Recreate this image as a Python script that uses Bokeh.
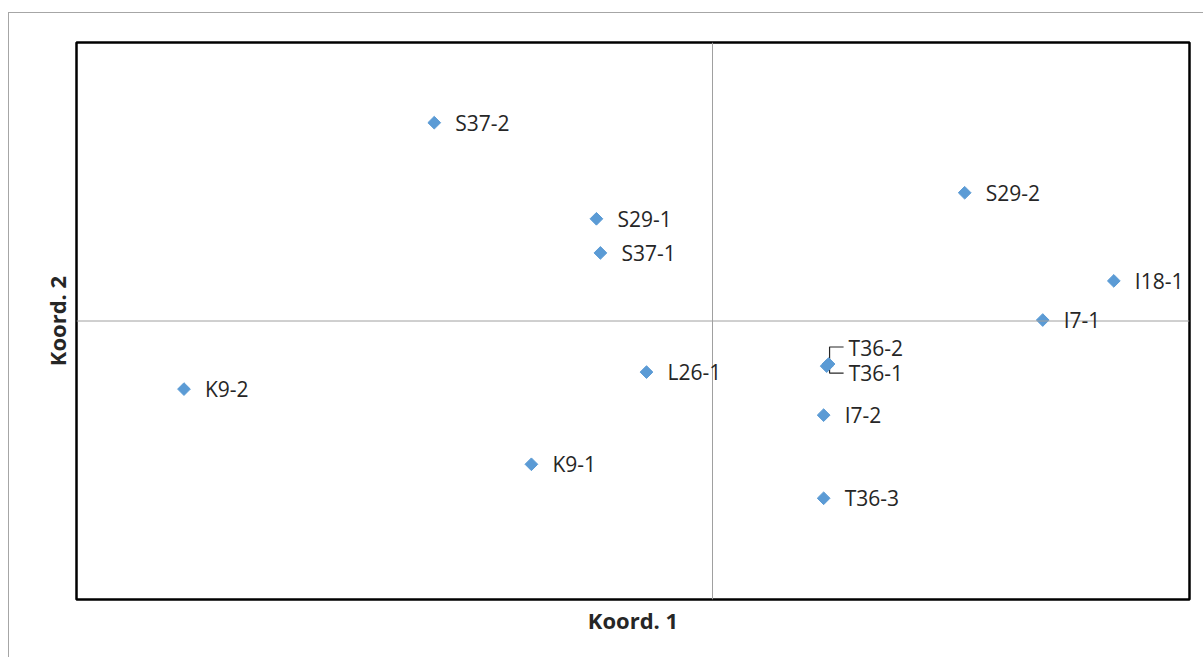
import math
from bokeh.plotting import figure
from bokeh.models import Range1d, Span, ColumnDataSource, LabelSet, FixedTicker
from bokeh.core.properties import value
from bokeh.embed import file_html
from bokeh.resources import INLINE

# data (Koord. 1, Koord. 2)
names = ["S37-2", "S29-1", "S37-1", "S29-2", "I18-1", "I7-1", "T36-2", "T36-1",
         "L26-1", "K9-2", "I7-2", "K9-1", "T36-3"]
koord1 = [-1.75, -0.73, -0.705, 1.586, 2.524, 2.077, 0.73, 0.718,
          -0.415, -3.324, 0.699, -1.139, 0.699]
koord2 = [1.424, 0.734, 0.489, 0.921, 0.288, 0.007, -0.309, -0.324,
          -0.367, -0.489, -0.676, -1.029, -1.273]

# label placement (screen px)
dx = [21] * len(names)
dy = [0] * len(names)
i2 = names.index("T36-2"); i1 = names.index("T36-1")
dx[i2], dy[i2] = 20, 16
dx[i1], dy[i1] = 22, -7

W, H = 1195, 645
p = figure(width=W, height=H, output_backend="svg", toolbar_location=None,
           x_range=Range1d(-4, 3), y_range=Range1d(-2, 2),
           min_border_left=67, min_border_right=15, min_border_top=29, min_border_bottom=59)
p.styles = {"border-left": "1px solid #a6a6a6", "border-top": "1px solid #a6a6a6",
            "margin-top": "12px", "margin-left": "8px"}
p.grid.visible = False
p.background_fill_color = "white"
p.border_fill_color = "white"
p.outline_line_color = "black"
p.outline_line_width = 2.5

for ax in (p.xaxis[0], p.yaxis[0]):
    ax.ticker = FixedTicker(ticks=[])
    ax.major_label_text_font_size = "0px"
    ax.major_tick_line_color = None
    ax.minor_tick_line_color = None
    ax.axis_line_color = None
    ax.axis_label_text_font = "Open Sans"
    ax.axis_label_text_font_style = "bold"
    ax.axis_label_text_font_size = "22px"
    ax.axis_label_text_color = "#262626"
p.xaxis.axis_label = "Koord. 1"
p.yaxis.axis_label = "Koord. 2"
p.xaxis.axis_label_standoff = 5
p.yaxis.axis_label_standoff = 5

p.add_layout(Span(location=0, dimension="height", line_color="#a0a0a0", line_width=1))
p.add_layout(Span(location=0, dimension="width", line_color="#a0a0a0", line_width=1))

src = ColumnDataSource(dict(x=koord1, y=koord2, name=names, dx=dx, dy=dy))

# leader lines for the crowded T36 pair
sx = (3 - (-4)) / (1188 - 76)   # data per px
sy = (2 - (-2)) / (598 - 42)
bx = koord1[i2] + 1 * sx
by = koord2[i2]
p.multi_line(xs=[[bx + 14 * sx, bx, bx], [bx, bx, bx + 14 * sx]],
             ys=[[by + 17 * sy, by + 17 * sy, by], [by, by - 9 * sy, by - 9 * sy]],
             line_color="#262626", line_width=1.2)

p.scatter("x", "y", source=src, marker="square", size=9, angle=math.pi / 4,
          fill_color="#5B9BD5", line_color="#5B9BD5")

labels = LabelSet(x="x", y="y", text="name", source=src, x_offset="dx", y_offset="dy",
                  text_font=value("Open Sans"), text_font_size=value("21px"),
                  text_color="#262626",
                  text_baseline="middle", text_align="left")
p.add_layout(labels)

open("out.html", "w").write(file_html(p, INLINE))
